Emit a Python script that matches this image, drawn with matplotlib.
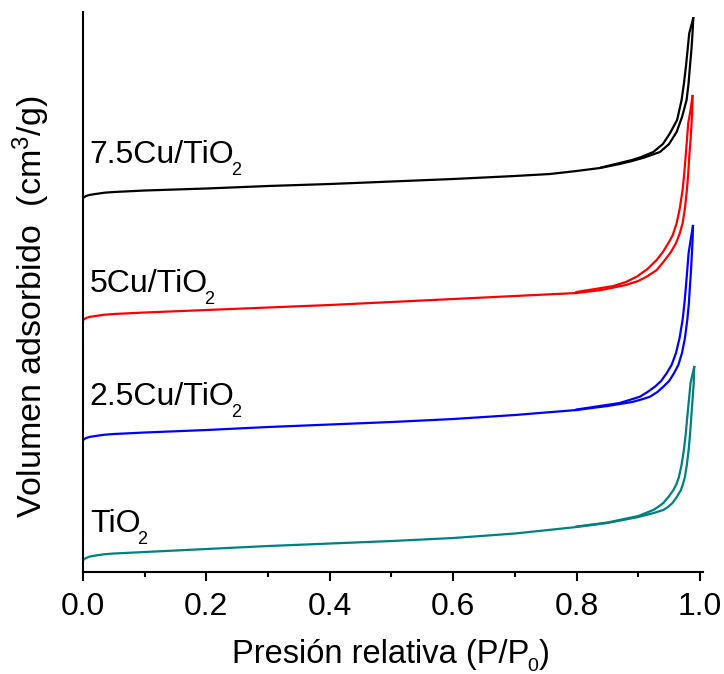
import matplotlib.pyplot as plt
from matplotlib.ticker import MultipleLocator

plt.rcParams['font.family'] = ['Liberation Sans', 'DejaVu Sans']
plt.rcParams['mathtext.fontset'] = 'custom'
plt.rcParams['mathtext.rm'] = 'Liberation Sans'
plt.rcParams['mathtext.it'] = 'Liberation Sans:italic'

# isotermas (unidades arbitrarias, curvas desplazadas)
tio2_ads_x = [0, 0.005, 0.01, 0.02, 0.035, 0.05, 0.1, 0.2, 0.3, 0.4, 0.5, 0.6, 0.7, 0.8,
              0.85, 0.9, 0.925, 0.9406, 0.948, 0.955, 0.962, 0.9692, 0.9725, 0.9757,
              0.979, 0.9817, 0.984, 0.986, 0.988, 0.990, 0.9908]
tio2_ads_y = [12, 14, 15.3, 16.5, 17.8, 18.5, 20, 23, 26, 28.5, 31, 34, 38.5, 45,
              49, 55, 59, 62, 65, 68.7, 74.5, 82, 88, 95,
              108, 122, 138, 155, 172, 189, 205]
tio2_des_x = [0.9908, 0.988, 0.9848, 0.9822, 0.9795, 0.977, 0.974, 0.9705, 0.966, 0.962,
              0.957, 0.949, 0.9406, 0.932, 0.9244, 0.9, 0.85, 0.8]
tio2_des_y = [205, 198, 189, 172, 155, 138, 122, 108, 95, 88,
              82, 75, 69, 65, 62, 56, 49.5, 45.5]

cu25_ads_x = [0, 0.005, 0.01, 0.02, 0.035, 0.05, 0.1, 0.2, 0.3, 0.4, 0.5, 0.6, 0.7, 0.8,
              0.85, 0.89, 0.905, 0.919, 0.931, 0.9406, 0.95, 0.9579, 0.965, 0.9708,
              0.9755, 0.9795, 0.982, 0.9838, 0.9856, 0.987, 0.9882, 0.9887]
cu25_ads_y = [132, 134, 135, 136, 137.3, 138, 139.5, 142, 145, 147.5, 150, 153, 157, 162,
              166, 170, 172.5, 175.3, 180, 185.3, 191, 198.7, 207, 218.7,
              233, 252, 268, 285.3, 302, 318.7, 333, 346]
cu25_des_x = [0.9887, 0.9852, 0.9816, 0.9795, 0.9773, 0.9748, 0.9719, 0.967, 0.9611,
              0.954, 0.946, 0.937, 0.927, 0.915, 0.9027, 0.87, 0.8]
cu25_des_y = [346, 333, 318.7, 302, 285.3, 268, 252, 234, 218.7,
              207, 198.7, 191, 185.3, 180, 175.3, 169, 162.5]

cu5_ads_x = [0, 0.005, 0.01, 0.02, 0.035, 0.05, 0.1, 0.2, 0.3, 0.4, 0.5, 0.6, 0.7, 0.8,
             0.84, 0.88, 0.9, 0.9136, 0.93, 0.9433, 0.953, 0.9611, 0.967, 0.9719, 0.9758,
             0.9789, 0.981, 0.9827, 0.9848, 0.9865, 0.9876, 0.988]
cu5_ads_y = [252, 254, 255, 256, 257.3, 258, 259.5, 262, 264.5, 267, 270, 273, 276, 279,
             282, 287, 291, 295.3, 302, 312, 320, 328.7, 338, 348.7, 364,
             382, 398, 415.3, 432, 448.7, 462, 476]
cu5_des_x = [0.988, 0.9848, 0.981, 0.979, 0.9768, 0.9745, 0.9719, 0.9675, 0.9622, 0.956,
             0.9487, 0.94, 0.9298, 0.915, 0.8974, 0.88, 0.86, 0.8]
cu5_des_y = [476, 462, 448.7, 432, 415.3, 398, 382, 364, 348.7, 337,
             328.7, 320, 312, 303, 295.3, 290, 286, 280]

cu75_ads_x = [0, 0.005, 0.01, 0.02, 0.035, 0.05, 0.1, 0.2, 0.3, 0.4, 0.5, 0.6, 0.7, 0.757,
              0.8, 0.838, 0.87, 0.89, 0.91, 0.9352, 0.95, 0.9622, 0.971, 0.9784, 0.9815,
              0.9838, 0.9862, 0.988, 0.9892]
cu75_ads_y = [374, 376, 377, 378, 379.3, 380, 381.5, 383.5, 386, 388, 390.5, 393, 396, 398,
              401, 404, 408, 411, 414.5, 420, 428, 440, 455, 472, 488,
              505.3, 522, 538.7, 553.7]
cu75_des_x = [0.9892, 0.9862, 0.9827, 0.98, 0.9773, 0.974, 0.9703, 0.963, 0.9514, 0.94,
              0.9244, 0.905, 0.89, 0.84]
cu75_des_y = [553.7, 547, 538.7, 522, 505.3, 488, 472, 452, 438.7, 428,
              420, 415, 412, 404.5]

labels = ['TiO', '2.5Cu/TiO', '5Cu/TiO', '7.5Cu/TiO']
label_sub = '2'
label_y = [40, 167, 280, 409]
colors = ['#008080', '#0000ff', '#ff0000', '#000000']

fig = plt.figure(figsize=(7.24, 6.74), dpi=100)
ax = fig.add_axes([0.1146, 0.1513, 0.8564, 0.8309])

curves = [(tio2_ads_x, tio2_ads_y, tio2_des_x, tio2_des_y),
          (cu25_ads_x, cu25_ads_y, cu25_des_x, cu25_des_y),
          (cu5_ads_x, cu5_ads_y, cu5_des_x, cu5_des_y),
          (cu75_ads_x, cu75_ads_y, cu75_des_x, cu75_des_y)]
for (xa, ya, xd, yd), c, lab, ly in zip(curves, colors, labels, label_y):
    ax.plot(xa, ya, color=c, lw=1.6, solid_joinstyle='round')
    ax.plot(xd, yd, color=c, lw=1.6, solid_joinstyle='round')
    t = ax.text(0.011, ly, lab, fontsize=23, va='baseline', ha='left')
    # subindice mas bajo y pequeño, como en el original
    ax.annotate(label_sub, xy=(1, ly), xycoords=(t, 'data'), xytext=(-2.5, -8.5),
                textcoords='offset points', fontsize=13, va='baseline', ha='left')

ax.set_xlim(0, 1.005)
ax.set_ylim(0, 560)
ax.set_yticks([])
ax.xaxis.set_major_locator(MultipleLocator(0.2))
ax.xaxis.set_minor_locator(MultipleLocator(0.1))
ax.xaxis.set_major_formatter(lambda v, p: f'{v:.1f}')
ax.tick_params(axis='x', which='major', direction='out', length=6.5, width=1.5,
               labelsize=23, pad=8)
ax.tick_params(axis='x', which='minor', direction='out', length=3.5, width=1.5)
for s in ['top', 'right']:
    ax.spines[s].set_visible(False)
for s in ['left', 'bottom']:
    ax.spines[s].set_linewidth(1.5)

# eje x: texto en partes para el subindice 0
xbase = 0.0165
t1 = fig.text(0.3204, xbase, 'Presión relativa (P/P', fontsize=23.5, va='baseline')
t2 = ax.annotate('0', xy=(1, xbase), xycoords=(t1, 'figure fraction'), xytext=(-1.5, -5.5),
                 textcoords='offset points', fontsize=14, va='baseline', ha='left',
                 annotation_clip=False)
ax.annotate(')', xy=(1, xbase), xycoords=(t2, 'figure fraction'), xytext=(0.5, 0),
            textcoords='offset points', fontsize=23.5, va='baseline', ha='left',
            annotation_clip=False)

ax.set_ylabel('Volumen adsorbido  (cm$^3$/g)', fontsize=24.5)
ax.yaxis.set_label_coords(-0.05, 0.473)

fig.savefig('out.png', dpi=100)
